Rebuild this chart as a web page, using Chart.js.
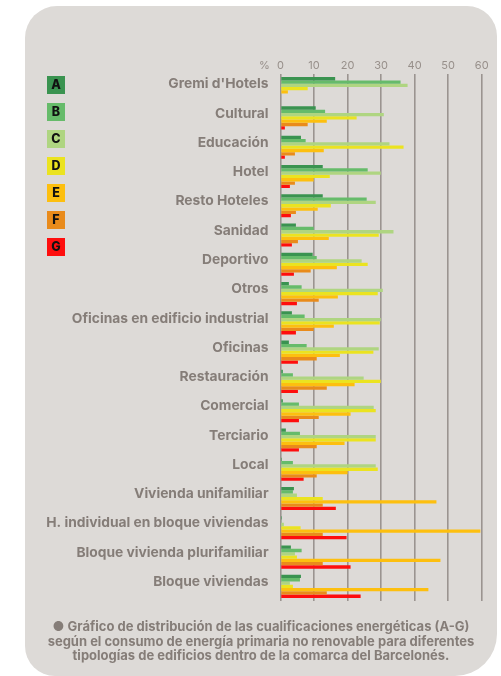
<!DOCTYPE html>
<html>
<head>
<meta charset="utf-8">
<script src="https://cdn.jsdelivr.net/npm/chart.js@4/dist/chart.umd.min.js"></script>
<style>
  html, body { margin: 0; padding: 0; background: #ffffff; }
  #wrap { position: relative; width: 501px; height: 676px; overflow: hidden; }
  #card { position: absolute; left: 25px; top: 6px; width: 472px; height: 670px;
          background: #dddad7; border-radius: 32px 30px 42px 30px; }
  #cv { position: absolute; left: 0; top: 0; }
  #caption { position: absolute; left: 25px; top: 619px; width: 472px; text-align: center;
             font-family: Inter, "Open Sans", sans-serif; font-weight: 700; font-size: 13px;
             line-height: 14.5px; color: #857d78; }
</style>
</head>
<body>
<div id="wrap">
  <div id="card"></div>
  <canvas id="cv" width="501" height="676"></canvas>
  <div id="caption">● Gráfico de distribución de las cualificaciones energéticas (A-G)<br>según el consumo de energía primaria no renovable para diferentes<br>tipologías de edificios dentro de la comarca del Barcelonés.</div>
</div>
<script>
const categories = ["Gremi d'Hotels", "Cultural", "Educación", "Hotel", "Resto Hoteles", "Sanidad",
  "Deportivo", "Otros", "Oficinas en edificio industrial", "Oficinas", "Restauración", "Comercial",
  "Terciario", "Local", "Vivienda unifamiliar", "H. individual en bloque viviendas",
  "Bloque vivienda plurifamiliar", "Bloque viviendas"];
const seriesLabels = ["A", "B", "C", "D", "E", "F", "G"];
const valuesA = [16.3, 10.5, 6.1, 12.6, 12.6, 4.6, 9.6, 2.5, 3.4, 2.5, 0.7, 0.7, 1.6, 0.4, 4.0, 0.4, 3.1, 6.1];
const valuesB = [35.8, 13.3, 7.5, 26.0, 25.7, 9.9, 10.8, 6.3, 7.2, 7.8, 3.7, 5.5, 5.8, 3.7, 3.7, 0.3, 6.3, 5.8];
const valuesC = [37.9, 30.8, 32.5, 29.9, 28.4, 33.7, 24.2, 30.5, 29.9, 29.3, 24.8, 27.8, 28.4, 28.4, 4.9, 1.0, 4.3, 2.8];
const valuesD = [8.1, 22.7, 36.7, 14.7, 15.0, 29.3, 26.0, 29.0, 29.6, 27.7, 29.9, 28.4, 28.4, 29.0, 12.6, 6.0, 4.9, 3.7];
const valuesE = [2.2, 13.8, 12.9, 9.9, 11.1, 14.4, 16.8, 17.1, 15.9, 17.7, 22.1, 20.9, 19.1, 20.0, 46.5, 59.6, 47.7, 44.1];
const valuesF = [0, 8.1, 4.3, 4.3, 4.6, 5.2, 9.0, 11.4, 9.9, 10.8, 13.8, 11.4, 10.8, 10.8, 12.6, 12.6, 12.6, 13.8];
const valuesG = [0, 1.3, 1.3, 2.8, 3.1, 3.4, 4.0, 4.9, 4.6, 5.2, 5.2, 5.5, 5.5, 6.9, 16.5, 19.7, 20.9, 23.9];
const xTickValues = [0, 10, 20, 30, 40, 50, 60];
const unitLabel = "%";

const colors = ["#3a9350", "#66bb6a", "#afd581", "#ebe320", "#fdbf0f", "#e98b1b", "#fe0e0e"];
const allValues = [valuesA, valuesB, valuesC, valuesD, valuesE, valuesF, valuesG];

const datasets = seriesLabels.map((lab, i) => ({
  label: lab,
  data: allValues[i],
  backgroundColor: colors[i],
  borderWidth: 0,
  categoryPercentage: 0.79,
  barPercentage: 1.0
}));

const labelColor = "#857d78";
const tickColor = "#978f8a";
const fontFam = "Inter, 'Open Sans', sans-serif";

const extras = {
  id: 'extras',
  afterDraw(chart) {
    const ctx = chart.ctx;
    const xs = chart.scales.x;
    ctx.save();
    ctx.font = "11px " + fontFam;
    ctx.fillStyle = tickColor;
    ctx.textAlign = 'center';
    ctx.textBaseline = 'middle';
    ctx.fillText(unitLabel, xs.getPixelForValue(0) - 16, 65.5);
    const size = 18;
    chart.data.datasets.forEach((ds, i) => {
      const x = 47, y = 76 + i * 27;
      ctx.fillStyle = ds.backgroundColor;
      ctx.fillRect(x, y, size, size);
      ctx.fillStyle = '#111111';
      ctx.font = "800 12.5px " + fontFam;
      ctx.fillText(ds.label, x + size / 2, y + size / 2 + 0.5);
    });
    ctx.restore();
  }
};

new Chart(document.getElementById('cv'), {
  type: 'bar',
  data: { labels: categories, datasets },
  options: {
    indexAxis: 'y',
    responsive: false,
    animation: false,
    layout: { padding: { left: 0, right: 19.3, top: 0, bottom: 75 } },
    plugins: { legend: { display: false }, tooltip: { enabled: false } },
    scales: {
      x: {
        position: 'top',
        min: 0, max: 60,
        afterFit(scale) { scale.height = 74; },
        afterBuildTicks(scale) { scale.ticks = xTickValues.map(v => ({ value: v })); },
        ticks: {
          padding: 2,
          color: tickColor,
          font: { family: fontFam, size: 11 }
        },
        grid: { color: '#9b9490', lineWidth: 1.6, drawTicks: false },
        border: { display: false }
      },
      y: {
        afterFit(scale) { scale.width = 280.5; },
        ticks: {
          padding: 12,
          labelOffset: -4.5,
          color: labelColor,
          font: { family: fontFam, size: 13.8, weight: 'bold' }
        },
        grid: { display: false, drawTicks: false },
        border: { display: false }
      }
    }
  },
  plugins: [extras]
});
</script>
</body>
</html>
